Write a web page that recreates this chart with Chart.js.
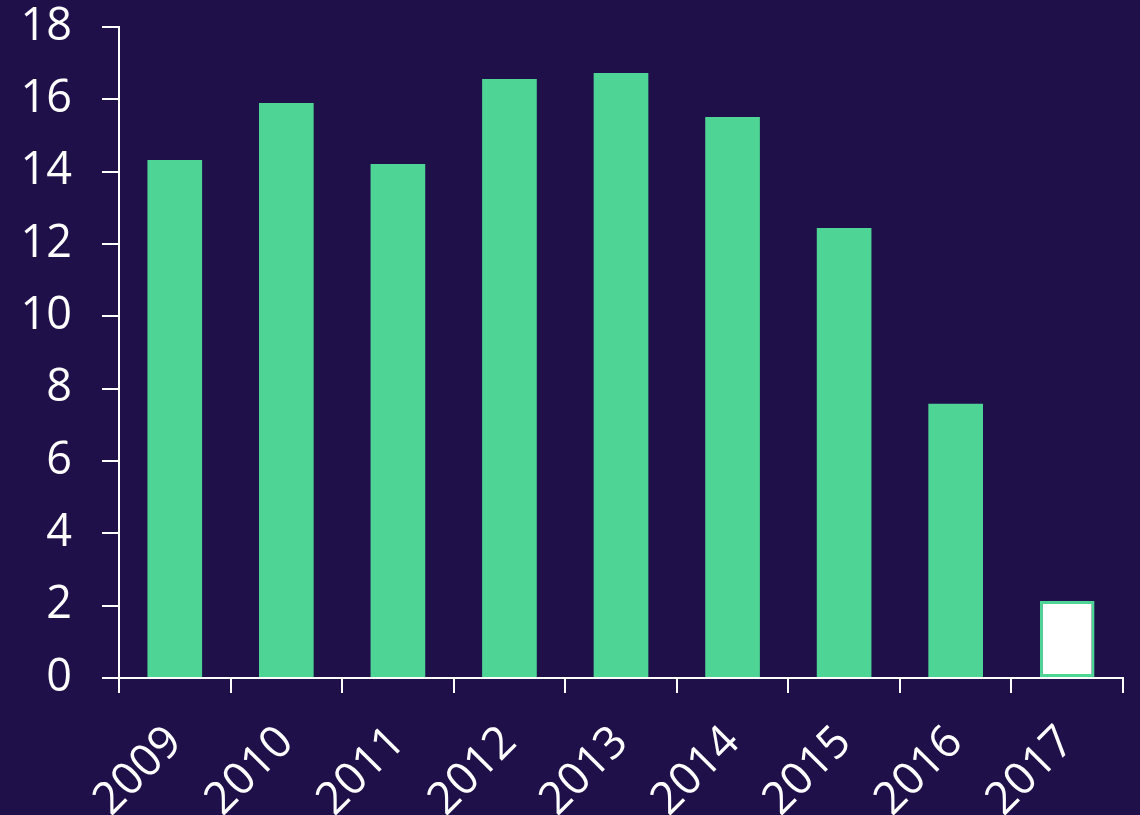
<!DOCTYPE html>
<html>
<head>
<meta charset="utf-8">
<script src="https://cdn.jsdelivr.net/npm/chart.js@4"></script>
<style>
  html, body { margin: 0; padding: 0; background: #1f104a; }
  #wrap { width: 1140px; height: 815px; position: relative; }
</style>
</head>
<body>
<div id="wrap"><canvas id="chart"></canvas></div>
<script>
// 연도별 값
const years = ['2009', '2010', '2011', '2012', '2013', '2014', '2015', '2016', '2017'];
const values = [14.32, 15.9, 14.21, 16.56, 16.73, 15.51, 12.44, 7.58, 2.13];
const yTicks = [0, 2, 4, 6, 8, 10, 12, 14, 16, 18];

const green = '#4ed495';
const fills = years.map((y, i) => i === years.length - 1 ? '#ffffff' : green);
const borders = years.map((y, i) => i === years.length - 1 ? 3 : 0);

const font = { family: 'Open Sans', size: 45 };

new Chart(document.getElementById('chart').getContext('2d'), {
  type: 'bar',
  data: {
    labels: years,
    datasets: [{
      data: values,
      backgroundColor: fills,
      borderColor: green,
      borderWidth: borders,
      borderSkipped: false,
      categoryPercentage: 1,
      barPercentage: 0.49,
    }],
  },
  options: {
    responsive: true, maintainAspectRatio: false,
    animation: false,
    layout: { padding: { top: 27, right: 17, left: 0, bottom: 0 } },
    plugins: { legend: { display: false }, tooltip: { enabled: false } },
    scales: {
      y: {
        min: 0, max: 18,
        afterBuildTicks: s => { s.ticks = yTicks.map(v => ({ value: v })); },
        afterFit: s => { s.width = 119; s.paddingTop = 0; s.paddingBottom = 0; },
        border: { color: '#ffffff', width: 2 },
        grid: { drawOnChartArea: false, drawTicks: true, tickLength: 17, color: '#ffffff', lineWidth: 2 },
        ticks: { color: '#ffffff', font, padding: 30 },
      },
      x: {
        afterFit: s => { s.height = 137; s.paddingLeft = 0; s.paddingRight = 0; },
        border: { color: '#ffffff', width: 2 },
        grid: { offset: true, drawOnChartArea: false, drawTicks: true, tickLength: 15, color: '#ffffff', lineWidth: 2 },
        ticks: { color: '#ffffff', font, maxRotation: 45, minRotation: 45, autoSkip: false, padding: 23 },
      },
    },
  },
});
</script>
</body>
</html>
